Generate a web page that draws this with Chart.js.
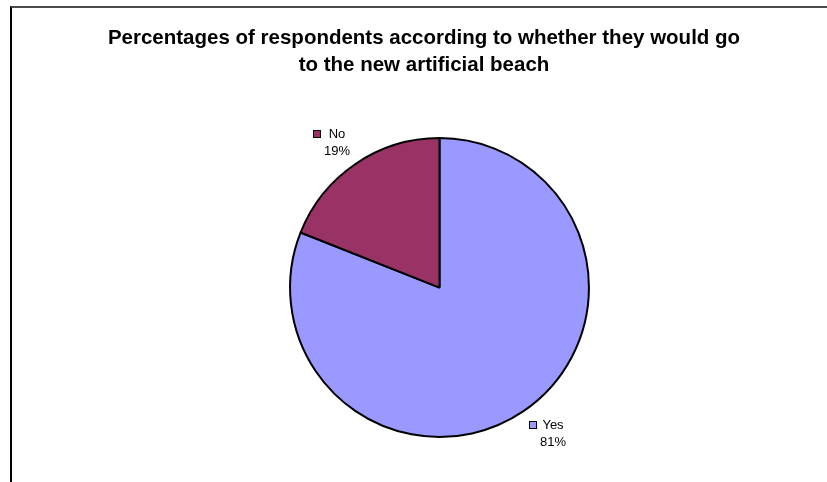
<!DOCTYPE html>
<html>
<head>
<meta charset="utf-8">
<title>Artificial beach survey</title>
<script src="https://cdn.jsdelivr.net/npm/chart.js@4"></script>
<style>
  html, body { margin: 0; padding: 0; background: #fff; overflow: hidden; }
  #wrap { position: relative; width: 827px; height: 482px; }
  #frame { position: absolute; left: 10px; top: 6px; right: -20px; bottom: -20px;
           border-top: 2px solid #4a4a4a; border-left: 2px solid #000; }
  canvas { position: absolute; left: 0; top: 0; }
</style>
</head>
<body>
<div id="wrap">
  <div id="frame"></div>
  <canvas id="myChart" width="827" height="482"></canvas>
</div>
<script>
// survey answers
const answers = ['Yes', 'No'];
const shares = [81, 19];
const sliceColors = ['#9999ff', '#993366'];
const titleLines = ['Percentages of respondents according to whether they would go', 'to the new artificial beach'];

const FONT = '"Liberation Sans", Arial, sans-serif';

// key square + name, share underneath; the label box sits with its
// nearest corner just outside the middle of its slice
const sliceLabels = {
  id: 'sliceLabels',
  afterDatasetsDraw(chart) {
    const ctx = chart.ctx;
    const meta = chart.getDatasetMeta(0);
    ctx.save();
    ctx.font = '13px ' + FONT;
    ctx.textAlign = 'center';
    ctx.textBaseline = 'middle';
    meta.data.forEach((arc, i) => {
      const p = arc.getProps(['x', 'y', 'startAngle', 'endAngle', 'outerRadius'], true);
      const mid = (p.startAngle + p.endAngle) / 2;
      const ax = p.x + Math.cos(mid) * p.outerRadius * 1.065;
      const ay = p.y + Math.sin(mid) * p.outerRadius * 1.065;
      const name = chart.data.labels[i];
      const pct = chart.data.datasets[0].data[i] + '%';
      const colW = Math.max(ctx.measureText(name).width, ctx.measureText(pct).width);
      const boxW = 8 + 3 + colW;
      const boxH = 28;
      const left = Math.round(Math.cos(mid) >= 0 ? ax : ax - boxW);
      const top = Math.round(Math.sin(mid) >= 0 ? ay : ay - boxH);
      const tx = left + 11 + colW / 2;

      ctx.fillStyle = '#000';
      ctx.fillText(name, tx, top + 6);
      ctx.fillText(pct, tx, top + 23);

      ctx.fillStyle = sliceColors[i];
      ctx.fillRect(left, top + 2, 8, 8);
      ctx.strokeStyle = '#000';
      ctx.lineWidth = 1;
      ctx.strokeRect(left + 0.5, top + 2.5, 7, 7);
    });
    ctx.restore();
  }
};

// heading is centred on the whole frame, not on the pie
const shiftTitle = {
  id: 'shiftTitle',
  afterLayout(chart) {
    chart.titleBlock.left = 21;
  }
};

const data = {
  labels: answers,
  datasets: [{
    data: shares,
    backgroundColor: sliceColors,
    borderColor: '#000',
    borderWidth: 2
  }]
};

const config = {
  type: 'pie',
  data,
  options: {
    responsive: false,
    animation: false,
    events: [],
    layout: { padding: { left: 52, right: 0, top: 0, bottom: 44 } },
    plugins: {
      legend: { display: false },
      tooltip: { enabled: false },
      title: {
        display: true,
        text: titleLines,
        color: '#000',
        font: { family: FONT, size: 20.5, weight: 'bold', lineHeight: 1.32 },
        padding: { top: 25, bottom: 58 }
      }
    }
  },
  plugins: [sliceLabels, shiftTitle]
};

let myChart = new Chart(document.getElementById('myChart'), config);
</script>
</body>
</html>
